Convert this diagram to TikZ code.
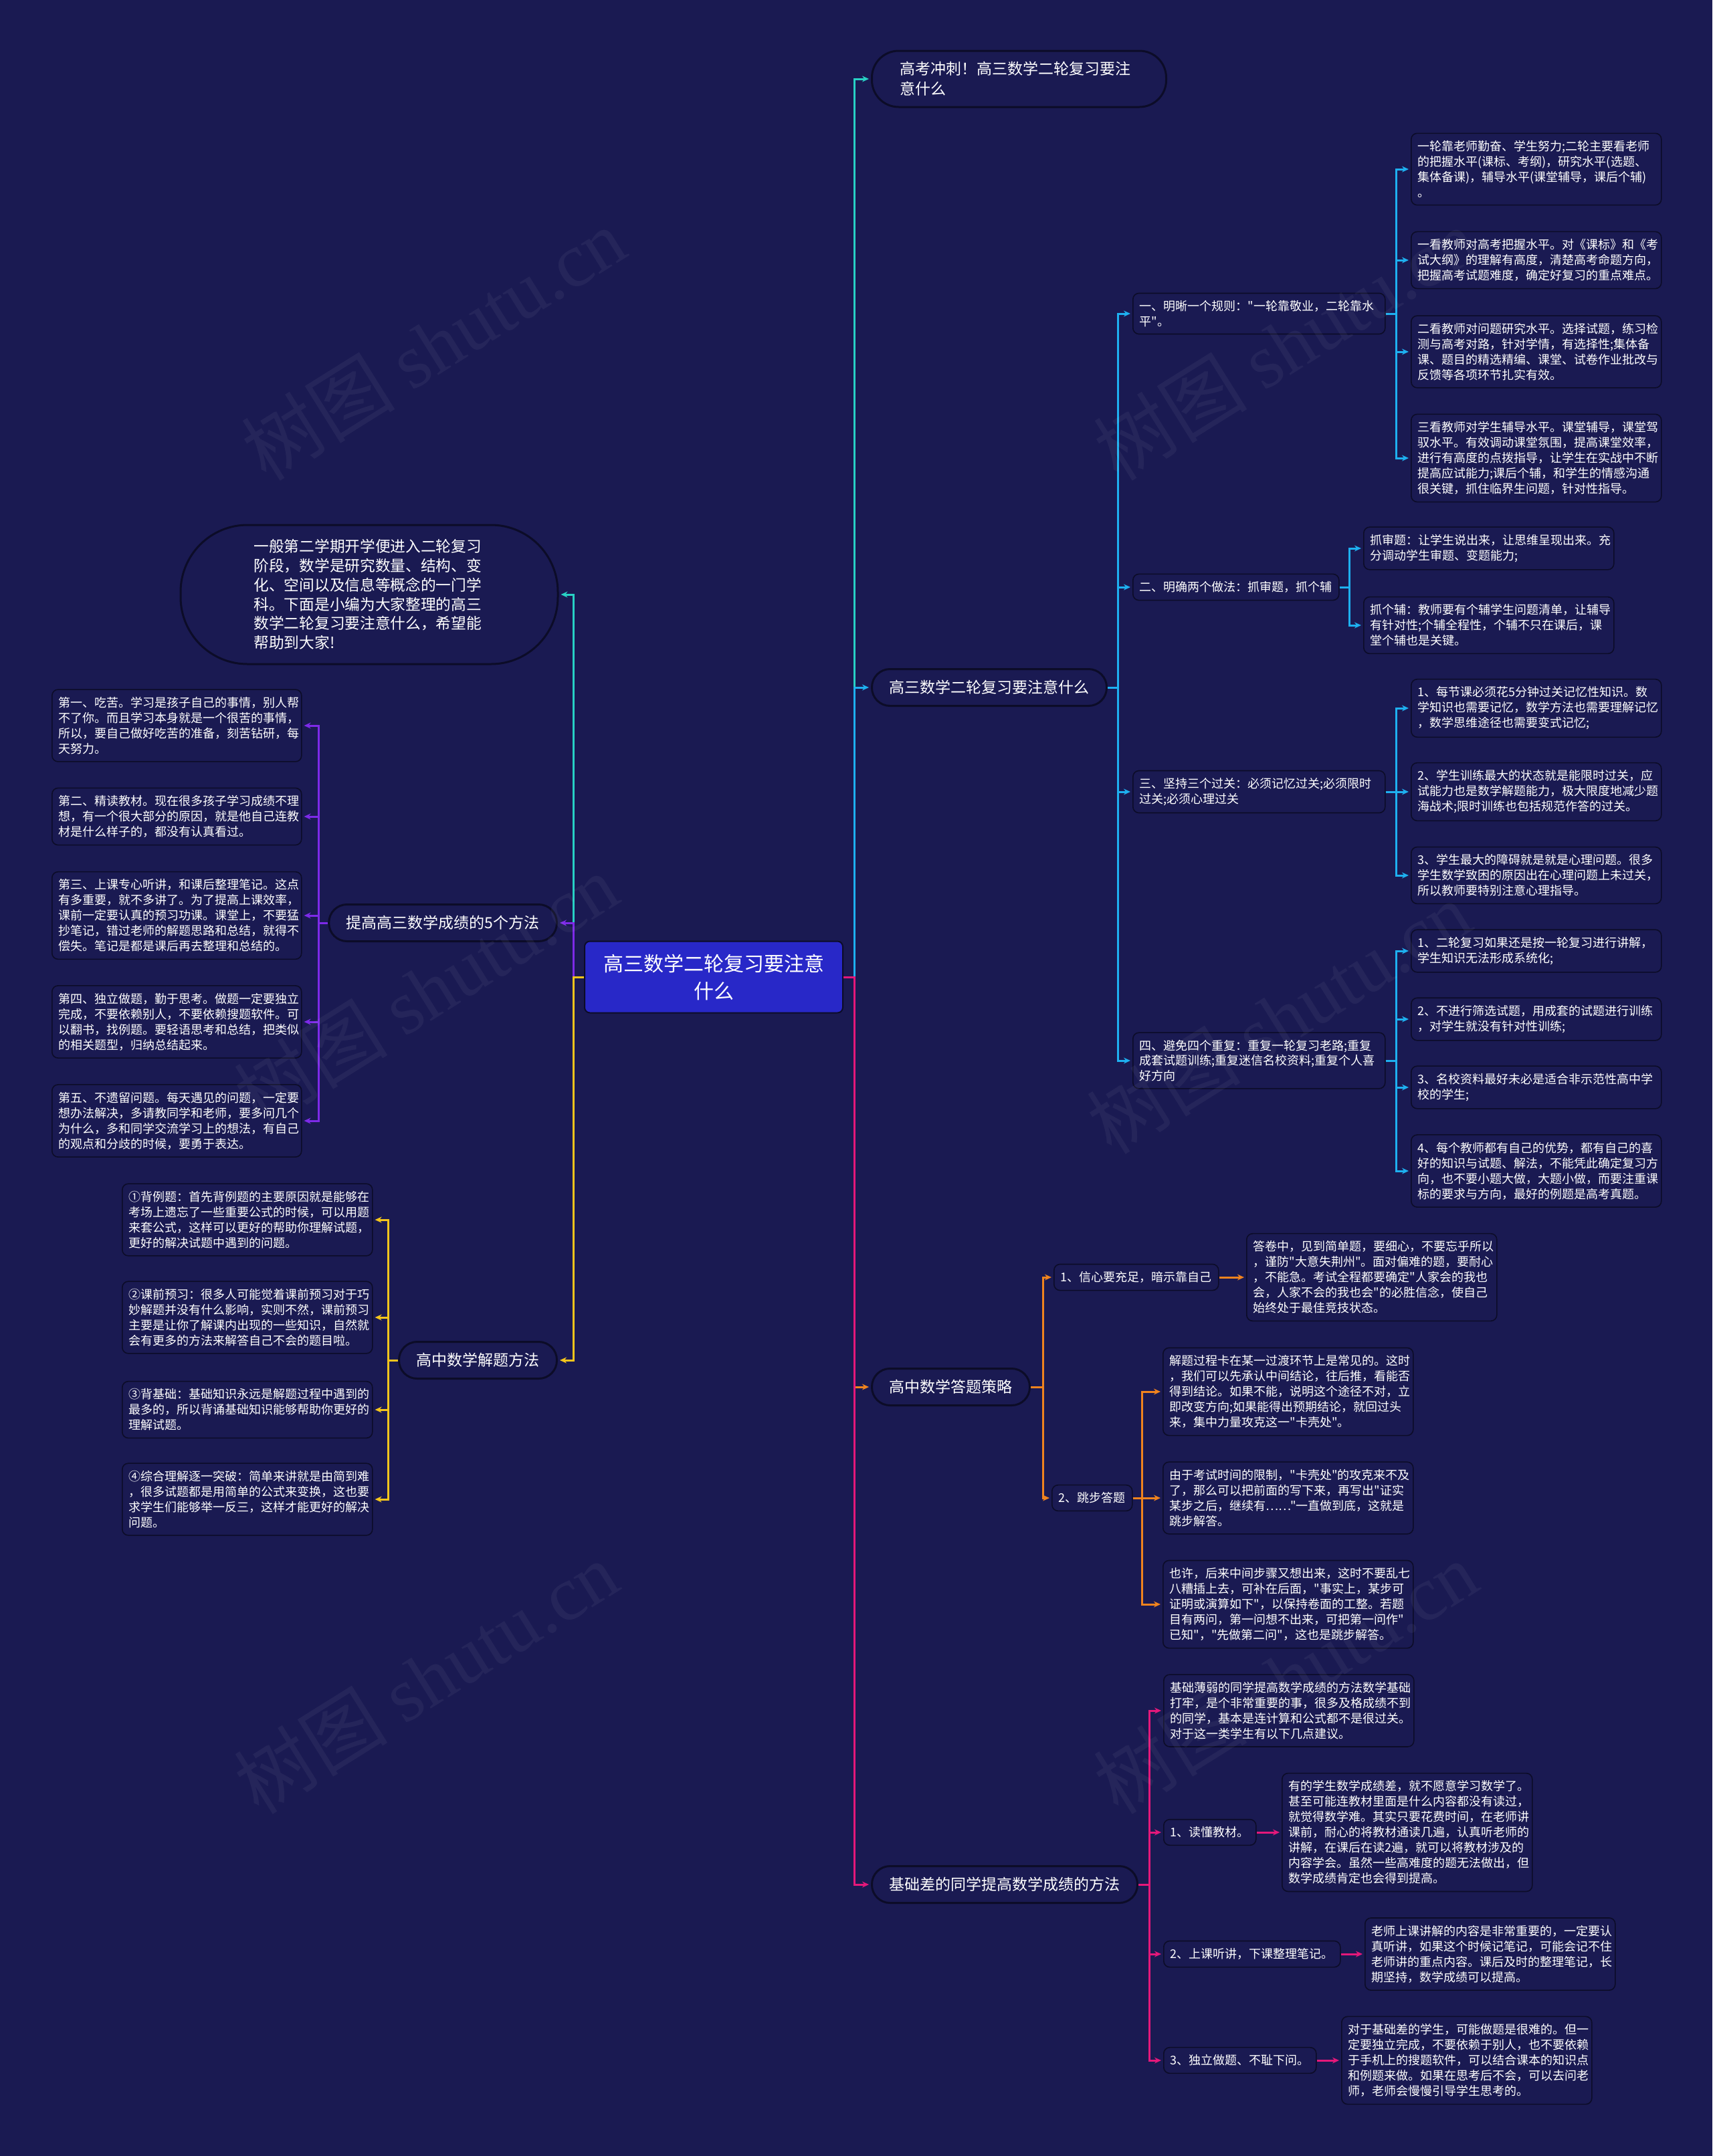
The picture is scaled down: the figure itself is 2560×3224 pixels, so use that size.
\documentclass[tikz,border=0pt]{standalone}
\usepackage{fontspec}
\setmainfont{Noto Sans CJK SC}
\newfontfamily\cjk{Noto Sans CJK SC}
\newfontfamily\wmlatin{Liberation Serif}
\usetikzlibrary{arrows.meta}
\definecolor{bg}{RGB}{26,26,82}
\definecolor{nodeline}{RGB}{12,12,40}
\definecolor{rootfill}{RGB}{40,40,200}
\definecolor{tealc}{RGB}{40,208,196}
\definecolor{bluec}{RGB}{30,176,240}
\definecolor{orangec}{RGB}{240,131,30}
\definecolor{pinkc}{RGB}{228,24,122}
\definecolor{purplec}{RGB}{125,42,232}
\definecolor{yellowc}{RGB}{244,197,28}
\tikzset{
  basebox/.style={draw=nodeline, line width=1.6pt, fill=bg, text=white, rounded corners=9pt, inner xsep=10pt, inner ysep=11pt, align=left},
  leaf/.style={basebox, text width=354pt, font=\cjk\fontsize{18}{23}\selectfont, anchor=west},
  sub/.style={basebox, font=\cjk\fontsize{18}{22.5}\selectfont, anchor=west},
  wsub/.style={sub, text width=357pt},
  pill/.style={draw=nodeline, line width=3pt, fill=bg, text=white, rounded corners=27pt, minimum height=55pt, inner xsep=26pt, font=\cjk\fontsize{23}{30}\selectfont},
  rootbox/.style={draw=nodeline, line width=2pt, fill=rootfill, text=white, rounded corners=8pt, text width=330pt, align=center, minimum height=107pt, minimum width=386pt, font=\cjk\fontsize{30}{41}\selectfont},
  link/.style={line width=3pt, -{Stealth[length=10pt,width=9pt]}, shorten >=3pt},
  wmark/.style={text=white, opacity=0.05, rotate=32, font=\cjk\fontsize{115}{120}\selectfont}
}
\begin{document}
\begin{tikzpicture}[x=1pt,y=-1pt]
\fill[bg] (0,0) rectangle (2560,3224);
\useasboundingbox (0,0) rectangle (2560,3224);

% root
\node[rootbox] (root) at (1067,1461) {高三数学二轮复习要注意\\什么};

% right level 1
\node[pill, anchor=west, align=left, text width=356pt, inner xsep=42pt, minimum height=84pt, rounded corners=40pt] (p1) at (1302,118) {高考冲刺！高三数学二轮复习要注\\意什么};
\node[pill, anchor=west] (p2) at (1302,1028) {高三数学二轮复习要注意什么};
\node[pill, anchor=west] (p3) at (1302,2074) {高中数学答题策略};
\node[pill, anchor=west] (p4) at (1302,2818) {基础差的同学提高数学成绩的方法};

% left level 1
\node[pill, align=left, text width=345pt, minimum width=564pt, minimum height=208pt, rounded corners=100pt, font=\cjk\fontsize{22.7}{28.7}\selectfont] (intro) at (552,889) {一般第二学期开学便进入二轮复习\\阶段，数学是研究数量、结构、变\\化、空间以及信息等概念的一门学\\科。下面是小编为大家整理的高三\\数学二轮复习要注意什么，希望能\\帮助到大家!};
\node[pill, anchor=east] (q1) at (834,1380) {提高高三数学成绩的5个方法};
\node[pill, anchor=east] (q2) at (834,2034) {高中数学解题方法};

% branch p2
\node[wsub] (a1) at (1693,469) {一、明晰一个规则："一轮靠敬业，二轮靠水\\平"。};
\node[sub] (a2) at (1693,878) {二、明确两个做法：抓审题，抓个辅};
\node[wsub] (a3) at (1693,1184) {三、坚持三个过关：必须记忆过关;必须限时\\过关;必须心理过关};
\node[wsub] (a4) at (1693,1586) {四、避免四个重复：重复一轮复习老路;重复\\成套试题训练;重复迷信名校资料;重复个人喜\\好方向};

\node[leaf] (a1l1) at (2109,253) {一轮靠老师勤奋、学生努力;二轮主要看老师\\的把握水平(课标、考纲)，研究水平(选题、\\集体备课)，辅导水平(课堂辅导，课后个辅)\\。};
\node[leaf] (a1l2) at (2109,389) {一看教师对高考把握水平。对《课标》和《考\\试大纲》的理解有高度，清楚高考命题方向，\\把握高考试题难度，确定好复习的重点难点。};
\node[leaf] (a1l3) at (2109,526) {二看教师对问题研究水平。选择试题，练习检\\测与高考对路，针对学情，有选择性;集体备\\课、题目的精选精编、课堂、试卷作业批改与\\反馈等各项环节扎实有效。};
\node[leaf] (a1l4) at (2109,685) {三看教师对学生辅导水平。课堂辅导，课堂驾\\驭水平。有效调动课堂氛围，提高课堂效率，\\进行有高度的点拨指导，让学生在实战中不断\\提高应试能力;课后个辅，和学生的情感沟通\\很关键，抓住临界生问题，针对性指导。};

\node[leaf] (a2l1) at (2038,820) {抓审题：让学生说出来，让思维呈现出来。充\\分调动学生审题、变题能力;};
\node[leaf] (a2l2) at (2038,935) {抓个辅：教师要有个辅学生问题清单，让辅导\\有针对性;个辅全程性，个辅不只在课后，课\\堂个辅也是关键。};

\node[leaf] (a3l1) at (2109,1059) {1、每节课必须花5分钟过关记忆性知识。数\\学知识也需要记忆，数学方法也需要理解记忆\\，数学思维途径也需要变式记忆;};
\node[leaf] (a3l2) at (2109,1184) {2、学生训练最大的状态就是能限时过关，应\\试能力也是数学解题能力，极大限度地减少题\\海战术;限时训练也包括规范作答的过关。};
\node[leaf] (a3l3) at (2109,1309) {3、学生最大的障碍就是就是心理问题。很多\\学生数学致困的原因出在心理问题上未过关，\\所以教师要特别注意心理指导。};

\node[leaf] (a4l1) at (2109,1422) {1、二轮复习如果还是按一轮复习进行讲解，\\学生知识无法形成系统化;};
\node[leaf] (a4l2) at (2109,1524) {2、不进行筛选试题，用成套的试题进行训练\\，对学生就没有针对性训练;};
\node[leaf] (a4l3) at (2109,1626) {3、名校资料最好未必是适合非示范性高中学\\校的学生;};
\node[leaf] (a4l4) at (2109,1751) {4、每个教师都有自己的优势，都有自己的喜\\好的知识与试题、解法，不能凭此确定复习方\\向，也不要小题大做，大题小做，而要注重课\\标的要求与方向，最好的例题是高考真题。};

% branch p3
\node[sub] (c1) at (1575,1910) {1、信心要充足，暗示靠自己};
\node[leaf] (c1l) at (1863,1910) {答卷中，见到简单题，要细心，不要忘乎所以\\，谨防"大意失荆州"。面对偏难的题，要耐心\\，不能急。考试全程都要确定"人家会的我也\\会，人家不会的我也会"的必胜信念，使自己\\始终处于最佳竞技状态。};
\node[sub] (c2) at (1572,2240) {2、跳步答题};
\node[leaf] (c2l1) at (1738,2081) {解题过程卡在某一过渡环节上是常见的。这时\\，我们可以先承认中间结论，往后推，看能否\\得到结论。如果不能，说明这个途径不对，立\\即改变方向;如果能得出预期结论，就回过头\\来，集中力量攻克这一"卡壳处"。};
\node[leaf] (c2l2) at (1738,2240) {由于考试时间的限制，"卡壳处"的攻克来不及\\了，那么可以把前面的写下来，再写出"证实\\某步之后，继续有……"一直做到底，这就是\\跳步解答。};
\node[leaf] (c2l3) at (1738,2399) {也许，后来中间步骤又想出来，这时不要乱七\\八糟插上去，可补在后面，"事实上，某步可\\证明或演算如下"，以保持卷面的工整。若题\\目有两问，第一问想不出来，可把第一问作"\\已知"，"先做第二问"，这也是跳步解答。};

% branch p4
\node[leaf] (d0) at (1739,2558) {基础薄弱的同学提高数学成绩的方法数学基础\\打牢，是个非常重要的事，很多及格成绩不到\\的同学，基本是连计算和公式都不是很过关。\\对于这一类学生有以下几点建议。};
\node[sub] (d1) at (1739,2740) {1、读懂教材。};
\node[leaf] (d1l) at (1916,2740) {有的学生数学成绩差，就不愿意学习数学了。\\甚至可能连教材里面是什么内容都没有读过，\\就觉得数学难。其实只要花费时间，在老师讲\\课前，耐心的将教材通读几遍，认真听老师的\\讲解，在课后在读2遍，就可以将教材涉及的\\内容学会。虽然一些高难度的题无法做出，但\\数学成绩肯定也会得到提高。};
\node[sub] (d2) at (1739,2922) {2、上课听讲，下课整理笔记。};
\node[leaf] (d2l) at (2040,2922) {老师上课讲解的内容是非常重要的，一定要认\\真听讲，如果这个时候记笔记，可能会记不住\\老师讲的重点内容。课后及时的整理笔记，长\\期坚持，数学成绩可以提高。};
\node[sub] (d3) at (1739,3081) {3、独立做题、不耻下问。};
\node[leaf] (d3l) at (2005,3081) {对于基础差的学生，可能做题是很难的。但一\\定要独立完成，不要依赖于别人，也不要依赖\\于手机上的搜题软件，可以结合课本的知识点\\和例题来做。如果在思考后不会，可以去问老\\师，老师会慢慢引导学生思考的。};

% branch q1
\node[leaf, text width=353pt] (e1) at (77,1085) {第一、吃苦。学习是孩子自己的事情，别人帮\\不了你。而且学习本身就是一个很苦的事情，\\所以，要自己做好吃苦的准备，刻苦钻研，每\\天努力。};
\node[leaf, text width=353pt] (e2) at (77,1221) {第二、精读教材。现在很多孩子学习成绩不理\\想，有一个很大部分的原因，就是他自己连教\\材是什么样子的，都没有认真看过。};
\node[leaf, text width=353pt] (e3) at (77,1369) {第三、上课专心听讲，和课后整理笔记。这点\\有多重要，就不多讲了。为了提高上课效率，\\课前一定要认真的预习功课。课堂上，不要猛\\抄笔记，错过老师的解题思路和总结，就得不\\偿失。笔记是都是课后再去整理和总结的。};
\node[leaf, text width=353pt] (e4) at (77,1528) {第四、独立做题，勤于思考。做题一定要独立\\完成，不要依赖别人，不要依赖搜题软件。可\\以翻书，找例题。要轻语思考和总结，把类似\\的相关题型，归纳总结起来。};
\node[leaf, text width=353pt] (e5) at (77,1676) {第五、不遗留问题。每天遇见的问题，一定要\\想办法解决，多请教同学和老师，要多问几个\\为什么，多和同学交流学习上的想法，有自己\\的观点和分歧的时候，要勇于表达。};

% branch q2
\node[leaf] (f1) at (182,1824) {①背例题：首先背例题的主要原因就是能够在\\考场上遗忘了一些重要公式的时候，可以用题\\来套公式，这样可以更好的帮助你理解试题，\\更好的解决试题中遇到的问题。};
\node[leaf] (f2) at (182,1970) {②课前预习：很多人可能觉着课前预习对于巧\\妙解题并没有什么影响，实则不然，课前预习\\主要是让你了解课内出现的一些知识，自然就\\会有更多的方法来解答自己不会的题目啦。};
\node[leaf] (f3) at (182,2108) {③背基础：基础知识永远是解题过程中遇到的\\最多的，所以背诵基础知识能够帮助你更好的\\理解试题。};
\node[leaf] (f4) at (182,2242) {④综合理解逐一突破：简单来讲就是由简到难\\，很多试题都是用简单的公式来变换，这也要\\求学生们能够举一反三，这样才能更好的解决\\问题。};

% connectors: root to level 1 (right)
\draw[link, tealc] (root.east) -- ++(16,0) |- (p1.west);
\draw[link, bluec] (root.east) -- ++(16,0) |- (p2.west);
\draw[link, orangec] (root.east) -- ++(16,0) |- (p3.west);
\draw[link, pinkc] (root.east) -- ++(16,0) |- (p4.west);
% root to level 1 (left)
\draw[link, tealc] (root.west) -- ++(-16,0) |- (intro.east);
\draw[link, purplec] (root.west) -- ++(-16,0) |- (q1.east);
\draw[link, yellowc] (root.west) -- ++(-16,0) |- (q2.east);

% p2 children
\foreach \n in {a1,a2,a3,a4} \draw[link, bluec] (p2.east) -- ++(15,0) |- (\n.west);
\foreach \n in {a1l1,a1l2,a1l3,a1l4} \draw[link, bluec] (a1.east) -- ++(16,0) |- (\n.west);
\foreach \n in {a2l1,a2l2} \draw[link, bluec] (a2.east) -- ++(15,0) |- (\n.west);
\foreach \n in {a3l1,a3l2,a3l3} \draw[link, bluec] (a3.east) -- ++(16,0) |- (\n.west);
\foreach \n in {a4l1,a4l2,a4l3,a4l4} \draw[link, bluec] (a4.east) -- ++(16,0) |- (\n.west);

% p3 children
\foreach \n in {c1,c2} \draw[link, orangec] (p3.east) -- ++(18,0) |- (\n.west);
\draw[link, orangec] (c1.east) -- (c1l.west);
\foreach \n in {c2l1,c2l2,c2l3} \draw[link, orangec] (c2.east) -- ++(14,0) |- (\n.west);

% p4 children
\foreach \n in {d0,d1,d2,d3} \draw[link, pinkc] (p4.east) -- ++(16,0) |- (\n.west);
\draw[link, pinkc] (d1.east) -- (d1l.west);
\draw[link, pinkc] (d2.east) -- (d2l.west);
\draw[link, pinkc] (d3.east) -- (d3l.west);

% q1, q2 children
\foreach \n in {e1,e2,e3,e4,e5} \draw[link, purplec] (q1.west) -- ++(-14,0) |- (\n.east);
\foreach \n in {f1,f2,f3,f4} \draw[link, yellowc] (q2.west) -- ++(-15,0) |- (\n.east);

% watermarks
\foreach \wx/\wy [count=\i] in {648/514, 1922/514, 637/1480, 1912/1521, 637/2508, 1922/2508}
  \node[wmark] (wm\i) at (\wx,\wy) {树图 {\wmlatin shutu.cn}};
\end{tikzpicture}
\end{document}
